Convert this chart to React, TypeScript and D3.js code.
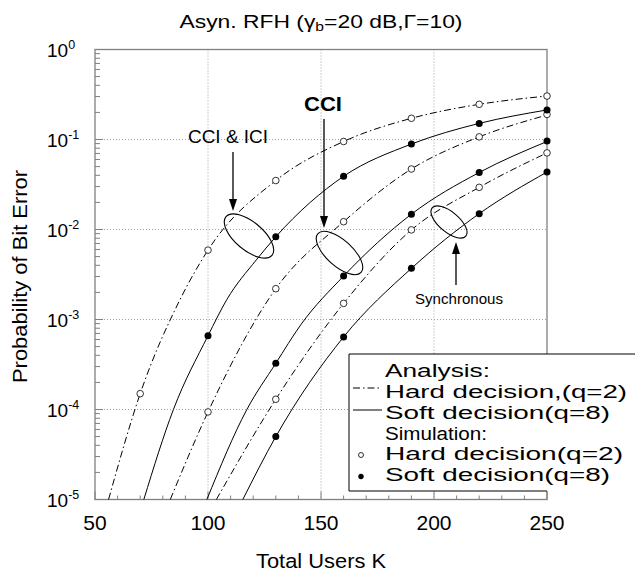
import * as d3 from 'd3';

// x ticks and log decades
const xMajor = [50, 100, 150, 200, 250];
const xMinor = [60, 70, 80, 90, 110, 120, 130, 140, 160, 170, 180, 190, 210, 220, 230, 240];
const decades = [0, -1, -2, -3, -4, -5];

// analysis curves, [K, BER]
const hardCciIci = [[56, 1e-5], [70, 1.5e-4], [87.6, 1.66e-3], [100, 5.9e-3], [130, 3.5e-2], [160, 9.5e-2], [190, 0.172], [220, 0.246], [250, 0.304]];
const softCciIci = [[71.6, 1e-5], [84.7, 1e-4], [100, 6.6e-4], [108.3, 1.66e-3], [121.4, 4.6e-3], [130, 8.3e-3], [160, 3.9e-2], [190, 8.9e-2], [220, 0.151], [250, 0.213]];
const hardCci = [[83.3, 1e-5], [100, 9.4e-5], [130, 2.2e-3], [160, 1.22e-2], [190, 4.7e-2], [220, 0.107], [250, 0.187]];
const softCci = [[99.5, 1e-5], [117.2, 1e-4], [130, 3.26e-4], [141, 8.7e-4], [160, 3.04e-3], [190, 1.48e-2], [220, 4.3e-2], [250, 9.5e-2]];
const hardSync = [[103.7, 1e-5], [130, 1.3e-4], [160, 1.51e-3], [190, 9.9e-3], [220, 2.94e-2], [250, 7.1e-2]];
const softSync = [[115.4, 1e-5], [130, 5e-5], [160, 6.4e-4], [190, 3.7e-3], [220, 1.5e-2], [250, 4.35e-2]];

// simulation points
const simHardCciIci = [[70, 1.5e-4], [100, 5.9e-3], [130, 3.5e-2], [160, 9.5e-2], [190, 0.172], [220, 0.246], [250, 0.304]];
const simHardCci = [[100, 9.4e-5], [130, 2.2e-3], [160, 1.22e-2], [190, 4.7e-2], [220, 0.107], [250, 0.19]];
const simHardSync = [[130, 1.3e-4], [160, 1.51e-3], [190, 9.9e-3], [220, 2.94e-2], [250, 7.1e-2]];
const simSoftCciIci = [[100, 6.6e-4], [130, 8.3e-3], [160, 3.9e-2], [190, 8.9e-2], [220, 0.151], [250, 0.213]];
const simSoftCci = [[130, 3.26e-4], [160, 3.04e-3], [190, 1.48e-2], [220, 4.3e-2], [250, 9.6e-2]];
const simSoftSync = [[130, 5e-5], [160, 6.4e-4], [190, 3.7e-3], [220, 1.5e-2], [250, 4.35e-2]];

const legendRows = ['Analysis:', 'Hard decision,(q=2)', 'Soft decision(q=8)', 'Simulation:', 'Hard decision(q=2)', 'Soft decision(q=8)'];
const legendWidths = [105, 242, 225, 102, 238, 225];

const FONT = '"Liberation Sans", Arial, Helvetica, sans-serif';
const DASHDOT = '7,3,1.5,3';
const AXIS = '#808080';

export default function App() {
  const x = d3.scaleLinear().domain([50, 250]).range([95, 547]);
  const y = d3.scaleLog().domain([1e-5, 1]).range([499.5, 49.5]);
  const [x0, x1] = x.range();
  const [yb, yt] = y.range();

  const line = d3
    .line<number[]>()
    .x((d) => x(d[0]))
    .y((d) => y(d[1]))
    .curve(d3.curveMonotoneX);

  const minorY: number[] = [];
  decades.slice(1).forEach((e) => {
    for (let m = 2; m <= 9; m++) minorY.push(m * Math.pow(10, e));
  });

  const hard = [hardCciIci, hardCci, hardSync];
  const soft = [softCciIci, softCci, softSync];
  const openPts = [...simHardCciIci, ...simHardCci, ...simHardSync];
  const filledPts = [...simSoftCciIci, ...simSoftCci, ...simSoftSync];

  const lx = 349, ltop = 354, lbot = 491;
  const rowY = [377, 398, 419, 440, 460, 481];

  return (
    <svg width={635} height={572} style={{ position: 'absolute', left: 0, top: 0, background: '#fff' }} fontFamily={FONT}>
      <rect width={635} height={572} fill="#fff" />
      {/* title */}
      <text x={321} y={28} textAnchor="middle" fontSize={19} textLength={283} lengthAdjust="spacingAndGlyphs">
        Asyn. RFH (γ<tspan fontSize={13} dy={3}>b</tspan><tspan dy={-3}>=20 dB,Γ=10)</tspan>
      </text>

      {/* grid */}
      {decades.slice(1, 5).map((e) => (
        <line key={'gh' + e} x1={x0} x2={x1} y1={y(Math.pow(10, e))} y2={y(Math.pow(10, e))} stroke="#888" strokeWidth={0.8} strokeDasharray="1,2" />
      ))}
      {[100, 150, 200].map((v) => (
        <line key={'gv' + v} x1={x(v)} x2={x(v)} y1={yt} y2={yb} stroke="#888" strokeWidth={0.8} strokeDasharray="1,2" />
      ))}

      {/* frame */}
      <rect x={x0} y={yt} width={x1 - x0} height={yb - yt} fill="none" stroke={AXIS} strokeWidth={1.3} />
      {minorY.map((v, i) => (
        <line key={'my' + i} x1={x0} x2={x0 + 5} y1={y(v)} y2={y(v)} stroke={AXIS} />
      ))}
      {decades.map((e) => (
        <line key={'My' + e} x1={x0} x2={x0 + 8} y1={y(Math.pow(10, e))} y2={y(Math.pow(10, e))} stroke={AXIS} />
      ))}
      {xMinor.map((v) => (
        <line key={'mx' + v} x1={x(v)} x2={x(v)} y1={yb} y2={yb - 4} stroke={AXIS} />
      ))}
      {xMajor.map((v) => (
        <line key={'Mx' + v} x1={x(v)} x2={x(v)} y1={yb} y2={yb - 8} stroke={AXIS} />
      ))}

      {/* curves */}
      {hard.map((d, i) => (
        <path key={'h' + i} d={line(d) || ''} fill="none" stroke="#000" strokeWidth={1} strokeDasharray={DASHDOT} />
      ))}
      {soft.map((d, i) => (
        <path key={'s' + i} d={line(d) || ''} fill="none" stroke="#000" strokeWidth={1} />
      ))}
      {openPts.map((d, i) => (
        <circle key={'o' + i} cx={x(d[0])} cy={y(d[1])} r={3.3} fill="#fff" stroke="#000" strokeWidth={0.8} />
      ))}
      {filledPts.map((d, i) => (
        <circle key={'f' + i} cx={x(d[0])} cy={y(d[1])} r={3.5} fill="#000" />
      ))}

      {/* annotations */}
      <ellipse cx={249} cy={236} rx={30} ry={14} transform="rotate(40 249 236)" fill="none" stroke="#000" strokeWidth={1.1} />
      <ellipse cx={339.5} cy={253} rx={29} ry={13} transform="rotate(42 339.5 253)" fill="none" stroke="#000" strokeWidth={1.1} />
      <ellipse cx={449} cy={222} rx={22} ry={10} transform="rotate(40 449 222)" fill="none" stroke="#000" strokeWidth={1.1} />

      <text x={228} y={142.5} textAnchor="middle" fontSize={18.5} textLength={80} lengthAdjust="spacingAndGlyphs">CCI &amp; ICI</text>
      <line x1={233} x2={233} y1={152} y2={200} stroke="#000" strokeWidth={1.3} />
      <path d="M229,199 L237,199 L233,211 Z" fill="#000" />

      <text x={323} y={111} textAnchor="middle" fontSize={20} fontWeight="bold" textLength={38} lengthAdjust="spacingAndGlyphs">CCI</text>
      <line x1={324} x2={324} y1={119} y2={217} stroke="#000" strokeWidth={1.3} />
      <path d="M320,216 L328,216 L324,228 Z" fill="#000" />

      <line x1={456} x2={456} y1={285} y2={253} stroke="#000" strokeWidth={1.3} />
      <path d="M452,254 L460,254 L456,242 Z" fill="#000" />
      <text x={459} y={304} textAnchor="middle" fontSize={15.5} textLength={88} lengthAdjust="spacingAndGlyphs">Synchronous</text>

      {/* legend */}
      <rect x={lx} y={ltop} width={635 - lx} height={lbot - ltop} fill="#fff" />
      <path d={`M635,${ltop} H${lx} V${lbot} H${x1}`} fill="none" stroke="#000" strokeWidth={1} />
      {legendRows.map((t, i) => (
        <text key={'l' + i} x={385} y={rowY[i]} fontSize={17.5} textLength={legendWidths[i]} lengthAdjust="spacingAndGlyphs">{t}</text>
      ))}
      <line x1={353} x2={382} y1={388} y2={388} stroke="#000" strokeWidth={1} strokeDasharray={DASHDOT} />
      <line x1={353} x2={382} y1={410} y2={410} stroke="#000" strokeWidth={1} />
      <circle cx={361} cy={455} r={2.5} fill="#fff" stroke="#000" strokeWidth={0.8} />
      <circle cx={361} cy={476.5} r={2.7} fill="#000" />

      {/* axis labels */}
      {xMajor.map((v) => (
        <text key={'xl' + v} x={x(v)} y={530} textAnchor="middle" fontSize={21}>{v}</text>
      ))}
      {decades.map((e) => (
        <text key={'yl' + e} x={47} y={y(Math.pow(10, e)) + 7} fontSize={19}>
          10<tspan fontSize={12.5} dy={-8}>{e === 0 ? '0' : '-' + -e}</tspan>
        </text>
      ))}
      <text x={321} y={568} textAnchor="middle" fontSize={20.5} textLength={130} lengthAdjust="spacingAndGlyphs">Total Users K</text>
      <text transform="translate(26.7,276.5) rotate(-90)" textAnchor="middle" fontSize={21} textLength={213} lengthAdjust="spacingAndGlyphs">Probability of Bit Error</text>
    </svg>
  );
}
